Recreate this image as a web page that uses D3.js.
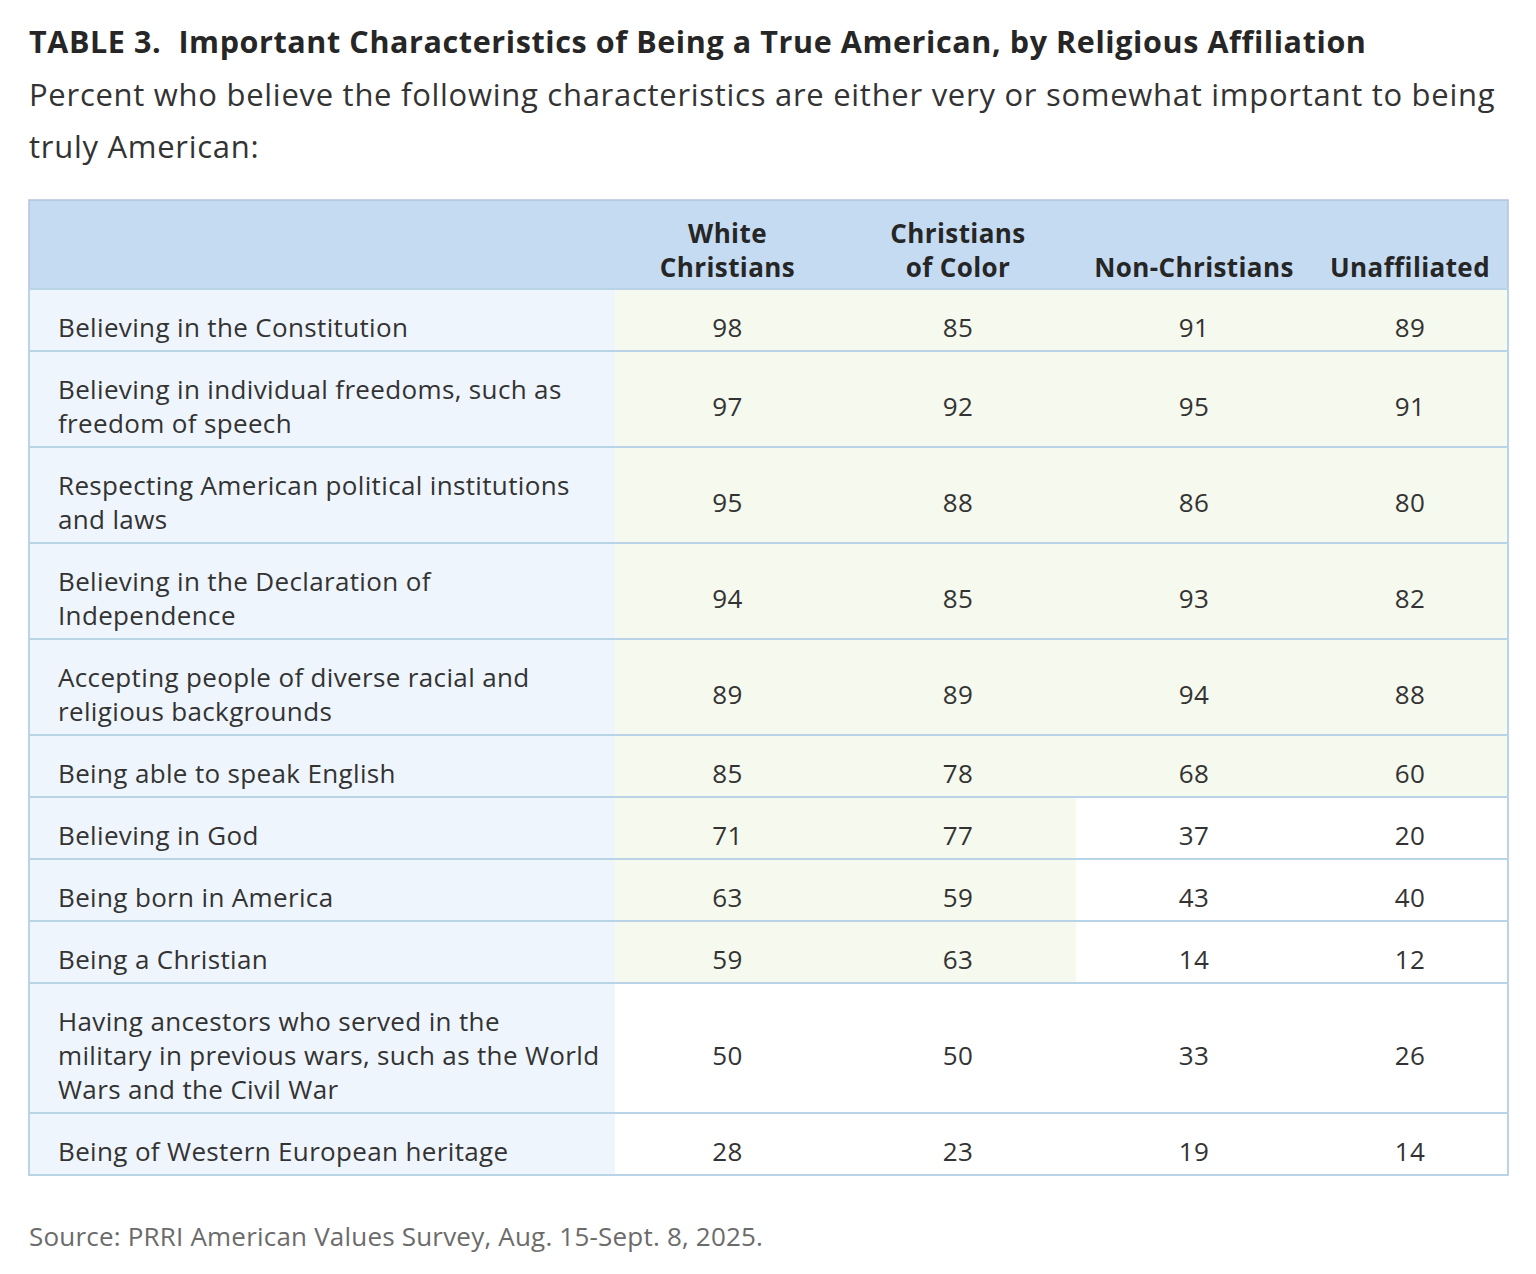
<!DOCTYPE html>
<html>
<head>
<meta charset="utf-8">
<script src="https://cdn.jsdelivr.net/npm/d3@7"></script>
<style>
  body { margin: 0; background: #fff; }
  text { font-family: "Open Sans", sans-serif; }
</style>
</head>
<body>
<svg id="chart"></svg>
<script>
// data
const columns = ["White\nChristians", "Christians\nof Color", "Non-Christians", "Unaffiliated"];
const characteristics = [
    "Believing in the Constitution",
    "Believing in individual freedoms, such as\nfreedom of speech",
    "Respecting American political institutions\nand laws",
    "Believing in the Declaration of\nIndependence",
    "Accepting people of diverse racial and\nreligious backgrounds",
    "Being able to speak English",
    "Believing in God",
    "Being born in America",
    "Being a Christian",
    "Having ancestors who served in the\nmilitary in previous wars, such as the World\nWars and the Civil War",
    "Being of Western European heritage"
];
const whiteChristians    = [98, 97, 95, 94, 89, 85, 71, 63, 59, 50, 28];
const christiansOfColor  = [85, 92, 88, 85, 89, 78, 77, 59, 63, 50, 23];
const nonChristians      = [91, 95, 86, 93, 94, 68, 37, 43, 14, 33, 19];
const unaffiliated       = [89, 91, 80, 82, 88, 60, 20, 40, 12, 26, 14];
const series = [whiteChristians, christiansOfColor, nonChristians, unaffiliated];

const titleText = "TABLE 3.  Important Characteristics of Being a True American, by Religious Affiliation";
const subtitleLines = [
    "Percent who believe the following characteristics are either very or somewhat important to being",
    "truly American:"
];
const sourceText = "Source: PRRI American Values Survey, Aug. 15-Sept. 8, 2025.";
const threshold = 50;

// layout
const W = 1536, H = 1274;
const table = { left: 29, right: 1508, top: 200, headerH: 89 };
const labelColRight = 615;
const colWidths = [225, 236, 236, 196];
const lineH = 34, baseRowH = 62;
const textDrop = 16.5;   // baseline sits this far below the row's middle
const colors = {
    header: "#c5dbf1",
    headerBorder: "#b4c2de",
    label: "#eff5fc",
    highlight: "#f6f9ed",
    rule: "#bad4e7",
    text: "#333333",
    head: "#262626",
    source: "#6b6b6b"
};

const svg = d3.select("#chart").attr("width", W).attr("height", H);

// title block
svg.append("text")
    .attr("x", 29).attr("y", 53)
    .style("font-size", "30.5px").style("font-weight", 700)
    .style("letter-spacing", "0.6px")
    .attr("fill", "#262626")
    .attr("xml:space", "preserve")
    .text(titleText);

svg.selectAll(".subtitle").data(subtitleLines).enter()
    .append("text")
    .attr("class", "subtitle")
    .attr("x", 29)
    .attr("y", (d, i) => 106 + i * 52)
    .style("font-size", "31px")
    .style("letter-spacing", "0.72px")
    .attr("fill", "#333")
    .text(d => d);

// scales
const colIdx = d3.range(columns.length);
const colX = d3.scaleOrdinal()
    .domain(colIdx)
    .range(colIdx.map(i => labelColRight + d3.sum(colWidths.slice(0, i))));
const colW = d3.scaleOrdinal().domain(colIdx).range(colWidths);

const rowLines = characteristics.map(s => s.split("\n").length);
const rowHeights = rowLines.map(n => baseRowH + lineH * (n - 1));
const rowIdx = d3.range(characteristics.length);
const bodyTop = table.top + table.headerH;
const rowY = d3.scaleOrdinal()
    .domain(rowIdx)
    .range(rowIdx.map(i => bodyTop + d3.sum(rowHeights.slice(0, i))));
const rowH = d3.scaleOrdinal().domain(rowIdx).range(rowHeights);
const tableBottom = bodyTop + d3.sum(rowHeights);

// header
svg.append("rect")
    .attr("x", table.left).attr("y", table.top)
    .attr("width", table.right - table.left).attr("height", table.headerH)
    .attr("fill", colors.header)
    .attr("stroke", colors.headerBorder).attr("stroke-width", 1.5);

const head = svg.selectAll(".colHead").data(columns).enter()
    .append("text")
    .attr("class", "colHead")
    .attr("text-anchor", "middle")
    .style("font-size", "26px").style("font-weight", 700)
    .style("letter-spacing", "0.4px")
    .attr("fill", colors.head);
head.each(function(d, i) {
    const lines = d.split("\n");
    const cx = colX(i) + colW(i) / 2;
    d3.select(this).selectAll("tspan").data(lines).enter()
        .append("tspan")
        .attr("x", cx)
        .attr("y", (l, j) => table.top + 77 - (lines.length - 1 - j) * 34)
        .text(l => l);
});

// body rows
const rows = svg.selectAll(".row").data(characteristics).enter()
    .append("g")
    .attr("class", "row")
    .attr("transform", (d, i) => "translate(0," + rowY(i) + ")");

rows.append("rect")
    .attr("x", table.left).attr("width", labelColRight - table.left)
    .attr("height", (d, i) => rowH(i))
    .attr("fill", colors.label);

rows.each(function(d, i) {
    const g = d3.select(this);
    g.selectAll(".cell").data(series.map(s => s[i])).enter()
        .append("rect")
        .attr("class", "cell")
        .attr("x", (v, c) => colX(c))
        .attr("width", (v, c) => colW(c))
        .attr("height", rowH(i))
        .attr("fill", v => v > threshold ? colors.highlight : "#ffffff");

    g.selectAll(".val").data(series.map(s => s[i])).enter()
        .append("text")
        .attr("class", "val")
        .attr("x", (v, c) => colX(c) + colW(c) / 2)
        .attr("y", rowH(i) / 2 + textDrop)
        .attr("text-anchor", "middle")
        .style("font-size", "26px")
        .style("letter-spacing", "0.35px")
        .attr("fill", colors.text)
        .text(v => v);

    const lines = d.split("\n");
    const firstY = rowH(i) / 2 - (lines.length - 1) * lineH / 2 + textDrop;
    g.append("text")
        .style("font-size", "26px")
        .style("letter-spacing", "0.35px")
        .attr("fill", colors.text)
        .selectAll("tspan").data(lines).enter()
        .append("tspan")
        .attr("x", 58)
        .attr("y", (l, j) => firstY + j * lineH)
        .text(l => l);
});

// horizontal rules
svg.selectAll(".rule").data(rowIdx.slice(1)).enter()
    .append("line")
    .attr("class", "rule")
    .attr("x1", table.left).attr("x2", table.right)
    .attr("y1", i => rowY(i)).attr("y2", i => rowY(i))
    .attr("stroke", colors.rule).attr("stroke-width", 2);

// outer body border
svg.append("path")
    .attr("d", "M" + table.left + "," + bodyTop + "V" + tableBottom +
        "H" + table.right + "V" + bodyTop)
    .attr("fill", "none")
    .attr("stroke", colors.rule).attr("stroke-width", 2);

svg.append("line")
    .attr("x1", table.left).attr("x2", table.right)
    .attr("y1", bodyTop).attr("y2", bodyTop)
    .attr("stroke", colors.rule).attr("stroke-width", 2);

// source
svg.append("text")
    .attr("x", 29).attr("y", 1246)
    .style("font-size", "26px")
    .style("letter-spacing", "0.2px")
    .attr("fill", colors.source)
    .text(sourceText);
</script>
</body>
</html>
